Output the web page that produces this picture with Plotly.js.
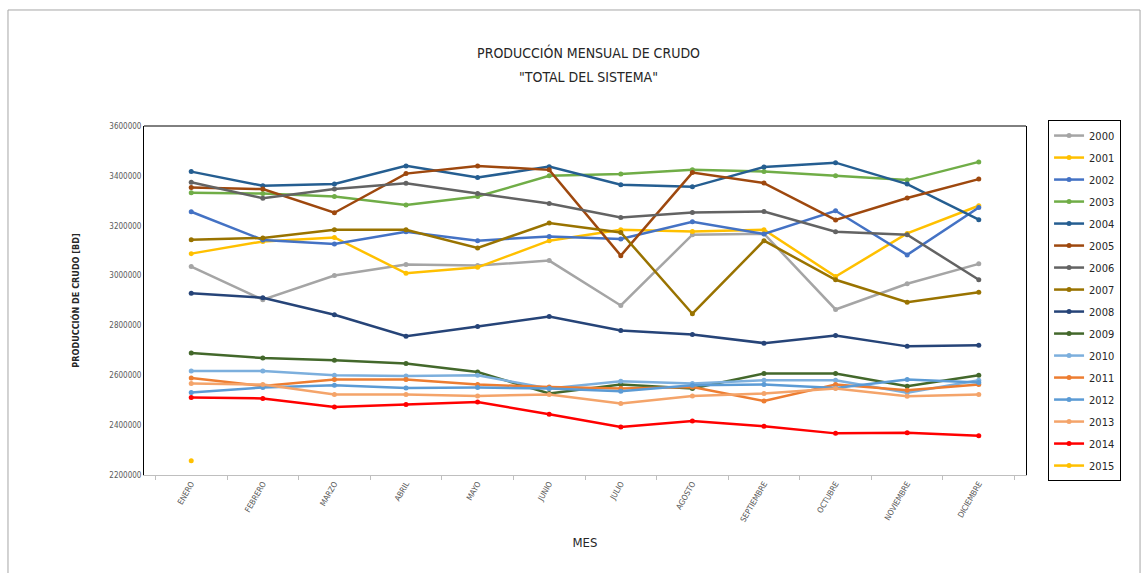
<!DOCTYPE html>
<html>
<head>
<meta charset="utf-8">
<script src="https://cdn.plot.ly/plotly-3.0.1.min.js"></script>
<style>html,body{margin:0;padding:0;background:#fff;}#chart{width:1146px;height:573px;}</style>
</head>
<body>
<div id="chart"></div>
<script>
const months = ["ENERO","FEBRERO","MARZO","ABRIL","MAYO","JUNIO","JULIO","AGOSTO","SEPTIEMBRE","OCTUBRE","NOVIEMBRE","DICIEMBRE"];
const years = ["2000","2001","2002","2003","2004","2005","2006","2007","2008","2009","2010","2011","2012","2013","2014","2015"];

const y2000 = [3036000, 2903000, 3000000, 3044000, 3040000, 3060000, 2880000, 3164000, 3168000, 2864000, 2967000, 3047000];
const y2001 = [3088000, 3137000, 3153000, 3009000, 3033000, 3140000, 3184000, 3177000, 3184000, 2996000, 3169000, 3280000];
const y2002 = [3256000, 3143000, 3127000, 3176000, 3140000, 3157000, 3147000, 3216000, 3167000, 3260000, 3083000, 3273000];
const y2003 = [3332000, 3329000, 3317000, 3283000, 3317000, 3400000, 3407000, 3425000, 3417000, 3400000, 3383000, 3456000];
const y2004 = [3417000, 3360000, 3367000, 3440000, 3393000, 3437000, 3364000, 3356000, 3436000, 3453000, 3367000, 3224000];
const y2005 = [3353000, 3347000, 3252000, 3409000, 3440000, 3424000, 3080000, 3413000, 3371000, 3223000, 3311000, 3387000];
const y2006 = [3374000, 3310000, 3347000, 3370000, 3329000, 3289000, 3233000, 3253000, 3257000, 3176000, 3164000, 2983000];
const y2007 = [3144000, 3151000, 3184000, 3184000, 3111000, 3211000, 3173000, 2847000, 3140000, 2983000, 2893000, 2933000];
const y2008 = [2929000, 2911000, 2843000, 2757000, 2796000, 2836000, 2780000, 2764000, 2729000, 2760000, 2716000, 2720000];
const y2009 = [2689000, 2669000, 2660000, 2647000, 2613000, 2527000, 2563000, 2547000, 2607000, 2607000, 2556000, 2600000];
const y2010 = [2617000, 2617000, 2600000, 2597000, 2600000, 2547000, 2576000, 2567000, 2580000, 2580000, 2530000, 2580000];
const y2011 = [2589000, 2557000, 2583000, 2583000, 2563000, 2553000, 2547000, 2553000, 2497000, 2563000, 2540000, 2563000];
const y2012 = [2531000, 2551000, 2560000, 2549000, 2551000, 2547000, 2536000, 2560000, 2563000, 2549000, 2583000, 2571000];
const y2013 = [2567000, 2563000, 2523000, 2523000, 2517000, 2523000, 2487000, 2517000, 2527000, 2547000, 2516000, 2523000];
const y2014 = [2511000, 2507000, 2473000, 2483000, 2493000, 2444000, 2393000, 2417000, 2396000, 2367000, 2369000, 2357000];
const y2015 = [2257000, null, null, null, null, null, null, null, null, null, null, null];

const titleLine1 = 'PRODUCCIÓN MENSUAL DE CRUDO';
const titleLine2 = '"TOTAL DEL SISTEMA"';

const seriesValues = [y2000,y2001,y2002,y2003,y2004,y2005,y2006,y2007,y2008,y2009,y2010,y2011,y2012,y2013,y2014,y2015];
const colors = ["#A5A5A5","#FFC000","#4472C4","#70AD47","#255E91","#9E480E","#636363","#997300","#264478","#43682B","#7CAFDD","#ED7D31","#5B9BD5","#F4A46A","#FF0000","#FFC000"];

const FONT = '"Liberation Sans Narrow", "DejaVu Sans Condensed", "Liberation Sans", sans-serif';

const traces = years.map((yr, i) => ({
  type: 'scatter',
  mode: 'lines+markers',
  name: yr,
  legendgroup: yr,
  x: months,
  y: seriesValues[i],
  line: {color: colors[i], width: 2.5},
  marker: {color: colors[i], size: 5, symbol: 'circle'},
  connectgaps: false
}));

const layout = {
  width: 1146,
  height: 573,
  margin: {l: 144, r: 120, t: 126, b: 98},
  paper_bgcolor: '#ffffff',
  plot_bgcolor: '#ffffff',
  font: {family: FONT, color: '#404040'},
  showlegend: true,
  title: {
    text: titleLine1,
    font: {family: FONT, size: 14, color: '#262626'},
    x: 0.504, xref: 'paper', xanchor: 'center',
    y: 1 - 53/573, yref: 'container', yanchor: 'middle'
  },
  annotations: [
    {text: titleLine2, xref: 'paper', yref: 'paper', x: 0.504, y: 1 + (475 - 77) / 349 - 1,
     xanchor: 'center', yanchor: 'middle', showarrow: false,
     font: {family: FONT, size: 14, color: '#262626'}}
  ],
  xaxis: {
    type: 'category',
    tickangle: -60,
    tickfont: {family: FONT, size: 8, color: '#595959'},
    showgrid: false,
    zeroline: false,
    showline: true,
    linecolor: '#BFBFBF',
    linewidth: 1,
    ticks: 'outside',
    tickson: 'boundaries',
    ticklen: 4,
    tickcolor: '#BFBFBF',
    automargin: false,
    title: {text: 'MES', font: {family: FONT, size: 13, color: '#262626'}, standoff: 15}
  },
  yaxis: {
    range: [2200000, 3600000],
    dtick: 200000,
    tick0: 2200000,
    tickformat: 'd',
    tickfont: {family: FONT, size: 8, color: '#595959'},
    showgrid: false,
    zeroline: false,
    showline: true,
    linecolor: '#000000',
    linewidth: 1,
    mirror: true,
    ticks: '',
    automargin: false,
    title: {text: '<b>PRODUCCIÓN DE CRUDO [BD]</b>', font: {family: FONT, size: 9, color: '#262626'}, standoff: 28}
  },
  legend: {
    x: 1.025, xanchor: 'left',
    y: 1.017, yanchor: 'top',
    maxheight: 420,
    bordercolor: '#000000',
    borderwidth: 1,
    bgcolor: '#ffffff',
    font: {family: FONT, size: 11, color: '#262626'},
    traceorder: 'grouped',
    tracegroupgap: 3,
    itemwidth: 30
  },
  shapes: [
    {type: 'line', xref: 'paper', yref: 'paper', x0: 0, x1: 1, y0: 1, y1: 1, line: {color: '#000000', width: 1}},
    {type: 'rect', xref: 'paper', yref: 'paper', x0: -0.1542, x1: 1.1293, y0: -0.35, y1: 1.3324, line: {color: '#A6A6A6', width: 1}, fillcolor: 'rgba(0,0,0,0)'}
  ]
};

Plotly.newPlot('chart', traces, layout, {displayModeBar: false, staticPlot: true});
</script>
</body>
</html>
